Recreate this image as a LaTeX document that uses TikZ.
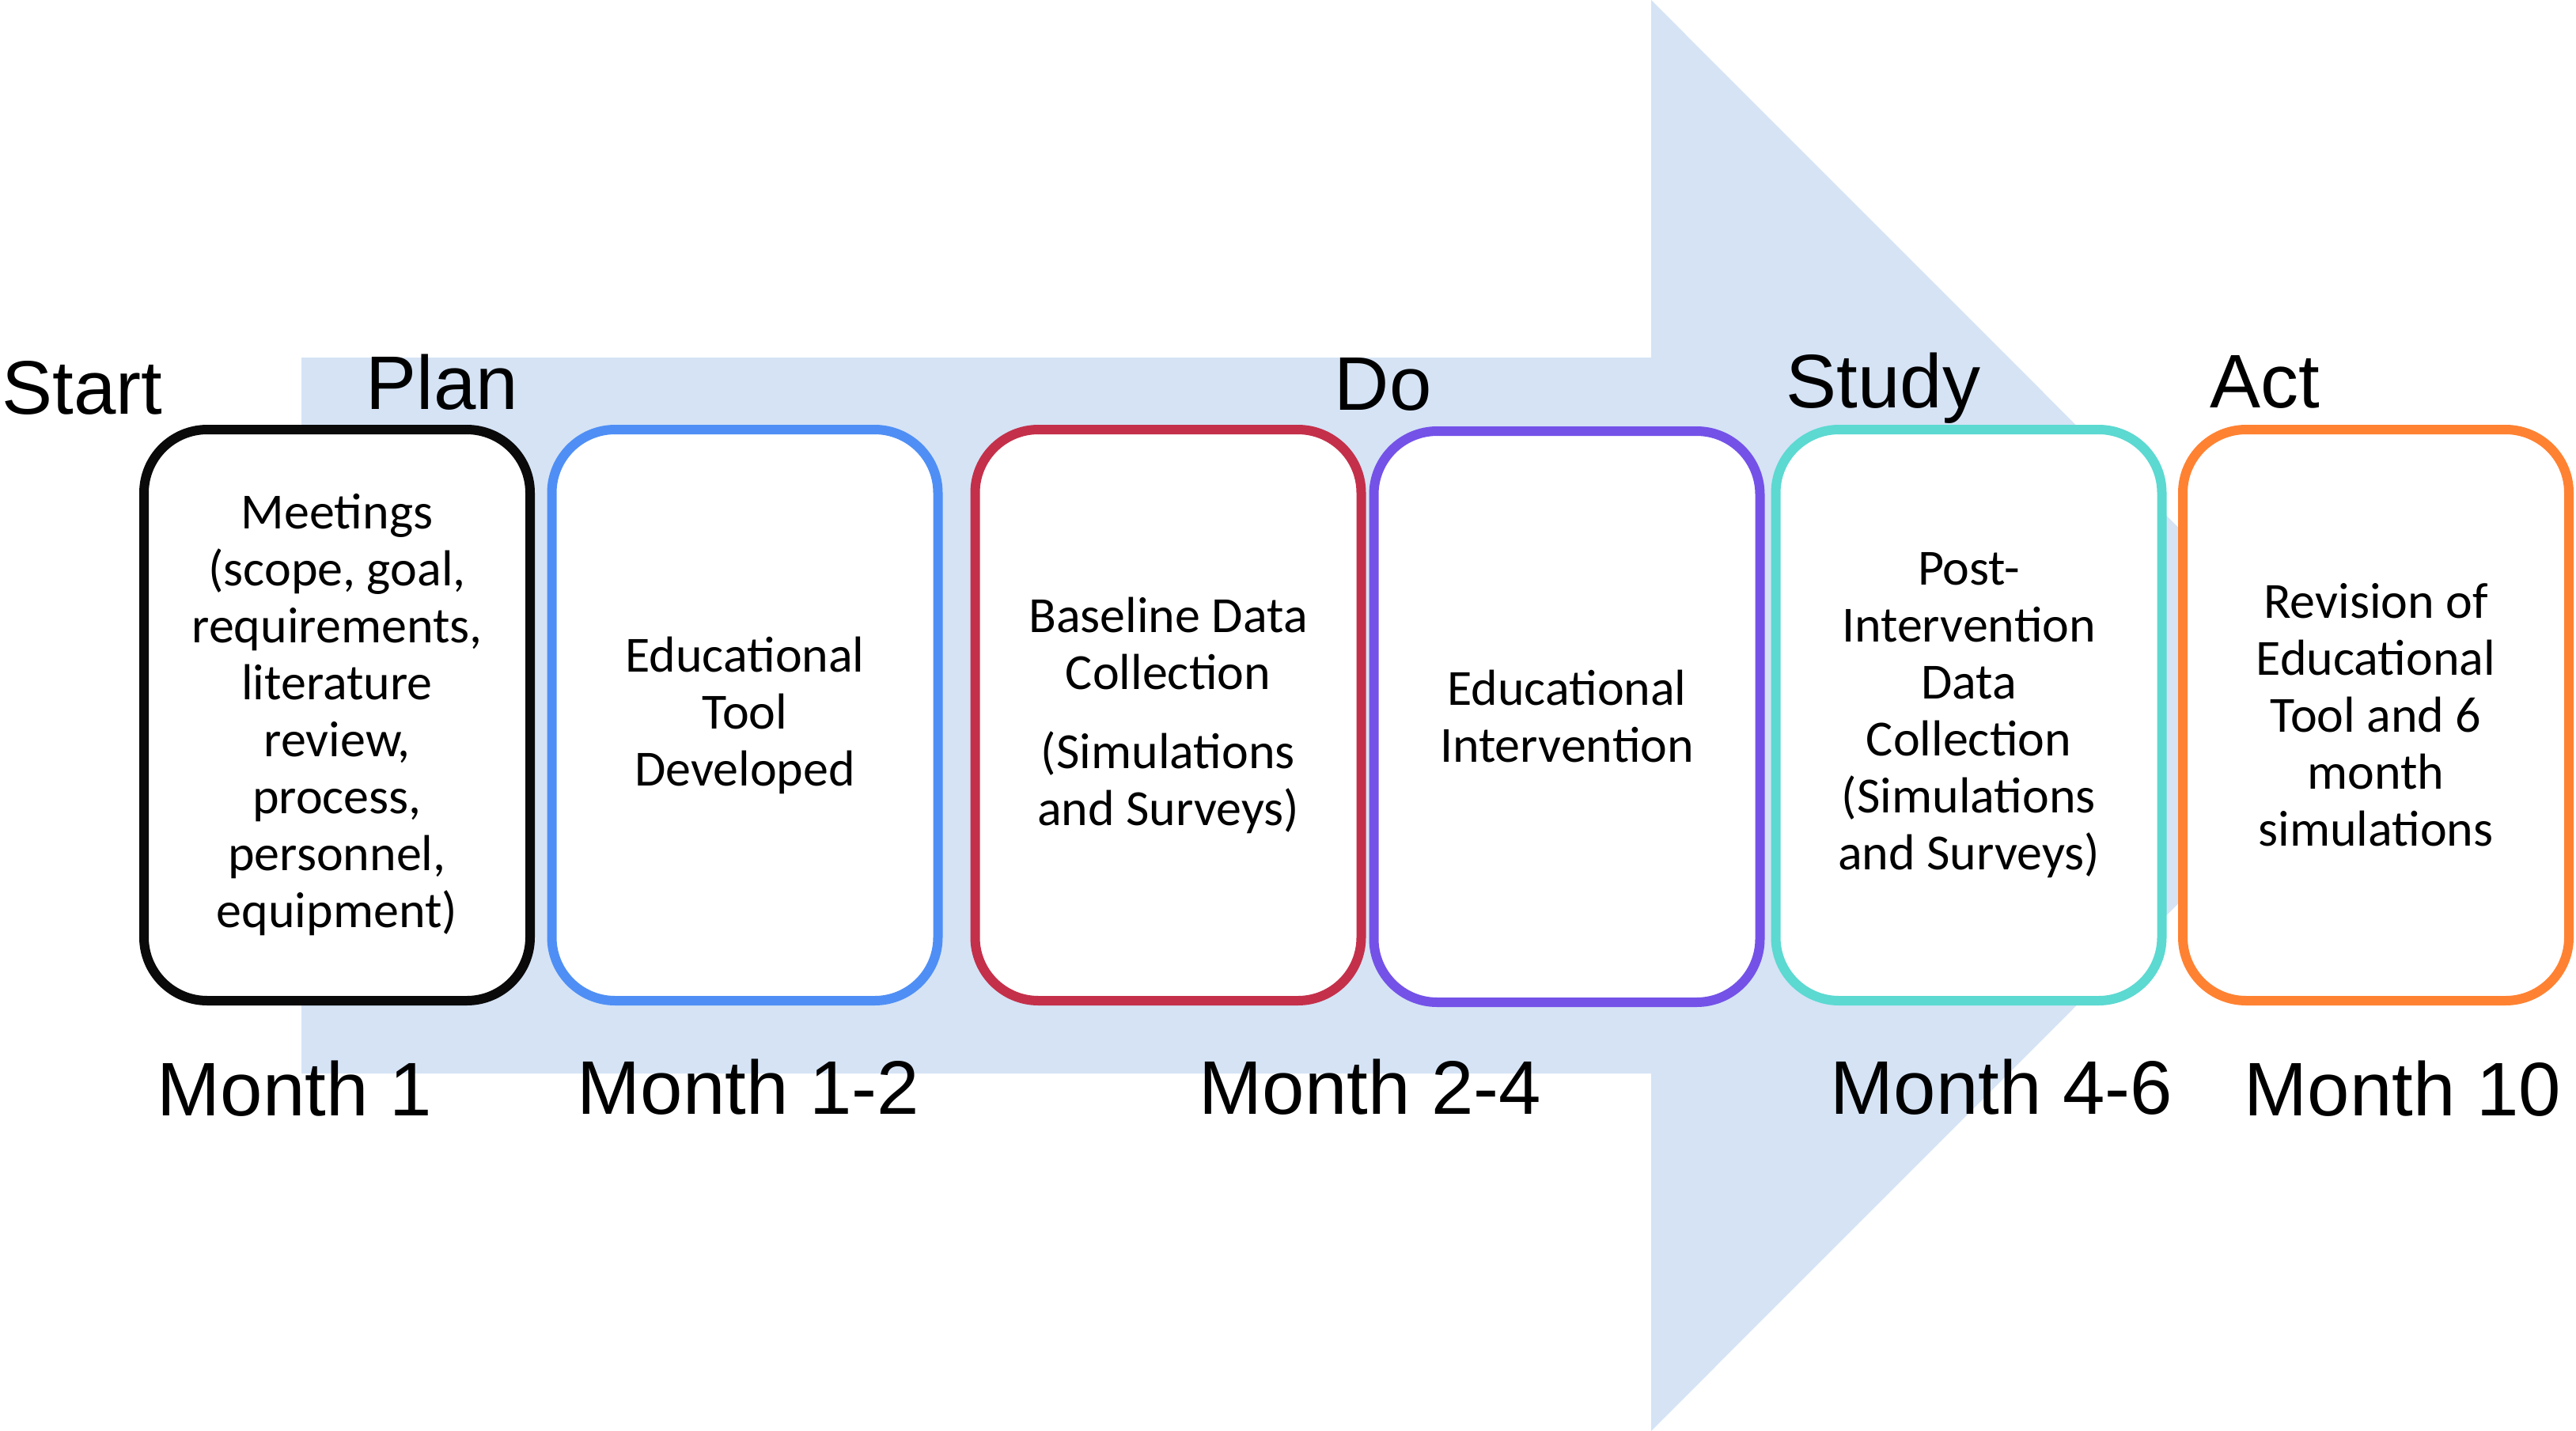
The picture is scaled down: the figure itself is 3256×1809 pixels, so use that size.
\documentclass[tikz,border=0pt]{standalone}
\usepackage{fontspec}
\setmainfont{Liberation Sans}
\newfontfamily\boxfont{Carlito}
\definecolor{arrowfill}{RGB}{213,227,245}
\definecolor{cblack}{RGB}{10,10,10}
\definecolor{cblue}{RGB}{79,143,245}
\definecolor{cred}{RGB}{196,48,74}
\definecolor{cpurple}{RGB}{116,82,232}
\definecolor{cteal}{RGB}{92,217,209}
\definecolor{corange}{RGB}{255,130,50}
\tikzset{
  stepbox/.style={draw=#1, line width=3pt, fill=white, rounded corners=20pt,
    minimum width=122pt, minimum height=180.5pt, align=center, inner sep=0pt,
    font=\boxfont\fontsize{16}{18}\selectfont, text=black},
  phase/.style={anchor=base west, inner sep=0pt, font=\fontsize{24}{28}\selectfont, text=black},
}
\begin{document}
\begin{tikzpicture}[x=0.25pt, y=-0.25pt]
\useasboundingbox (0,0) rectangle (3256,1809);
% big arrow
\fill[arrowfill] (381,452) -- (2087,452) -- (2087,0) -- (2991,904.5) -- (2087,1809) -- (2087,1357) -- (381,1357) -- cycle;
% boxes
\node[stepbox=cblack] (b1) at (426,904) {Meetings\\(scope, goal,\\requirements,\\literature\\review,\\process,\\personnel,\\equipment)};
\node[stepbox=cblue] (b2) at (941.5,904) {Educational\\Tool\\Developed};
\node[stepbox=cred] (b3) at (1476.5,904) {Baseline Data\\Collection\\[7pt](Simulations\\and Surveys)};
\node[stepbox=cpurple] (b4) at (1980.5,906) {Educational\\Intervention};
\node[stepbox=cteal] (b5) at (2488.5,904) {Post-\\Intervention\\Data\\Collection\\(Simulations\\and Surveys)};
\node[stepbox=corange] (b6) at (3003,904) {Revision of\\Educational\\Tool and 6\\month\\simulations};
% phase labels
\node[phase] (start) at (2,523) {Start};
\node[phase] (plan) at (462,517) {Plan};
\node[phase] (do) at (1686,518) {Do};
\node[phase] (study) at (2257,515) {Study};
\node[phase] (act) at (2793,515) {Act};
% month labels
\node[phase] (m1) at (198,1410) {Month 1};
\node[phase] (m2) at (729,1408) {Month 1-2};
\node[phase] (m3) at (1515,1408) {Month 2-4};
\node[phase] (m4) at (2313,1408) {Month 4-6};
\node[phase] (m5) at (2836,1410) {Month 10};
\end{tikzpicture}
\end{document}
